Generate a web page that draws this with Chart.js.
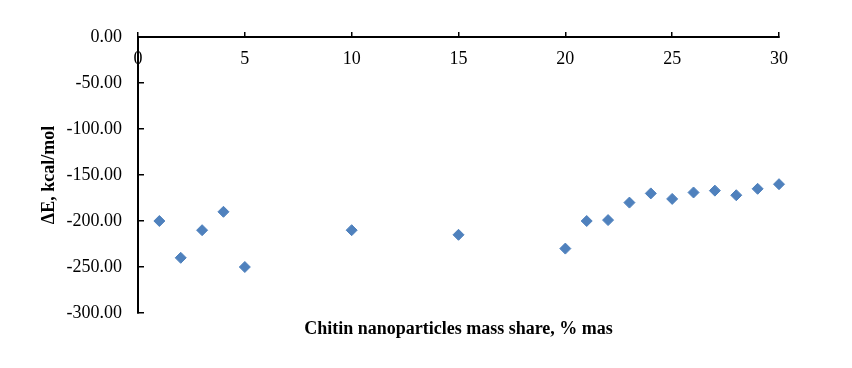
<!DOCTYPE html>
<html>
<head>
<meta charset="utf-8">
<script src="https://cdn.jsdelivr.net/npm/chart.js@4/dist/chart.umd.min.js"></script>
<style>
  body { margin: 0; background: #fff; }
  #wrap { width: 852px; height: 368px; position: relative; }
</style>
</head>
<body>
<div id="wrap"><canvas id="chart"></canvas></div>
<script>
// chitin nanoparticle share (% mas) vs interaction energy (kcal/mol)
const shares = [1, 2, 3, 4, 5, 10, 15, 20, 21, 22, 23, 24, 25, 26, 27, 28, 29, 30];
const energies = [-200, -240, -210, -190, -250, -210, -215, -230, -200, -199, -180, -170, -176, -169, -167, -172, -165, -160];
const xTicks = [0, 5, 10, 15, 20, 25, 30];
const yTicks = [0, -50, -100, -150, -200, -250, -300];

const serif = "'Liberation Serif', 'Times New Roman', serif";
const points = shares.map((s, i) => ({ x: s, y: energies[i] }));

const ctx = document.querySelector('#chart').getContext('2d');

new Chart(ctx, {
  type: 'scatter',
  data: {
    datasets: [{
      label: 'ΔE',
      data: points,
      pointStyle: 'rectRot',
      pointRadius: 5.5,
      pointHoverRadius: 5.5,
      backgroundColor: '#4F81BD',
      borderColor: '#4F81BD',
      borderWidth: 1,
      clip: false
    }]
  },
  options: {
    responsive: true,
    maintainAspectRatio: false,
    animation: false,
    events: [],
    layout: { padding: { left: 0, right: 73, top: 37, bottom: 27.4 } },
    plugins: {
      legend: { display: false },
      tooltip: { enabled: false },
      title: {
        display: true,
        position: 'bottom',
        fullSize: false,
        text: 'Chitin nanoparticles mass share, % mas',
        color: '#000',
        font: { family: serif, size: 18, weight: 'bold' },
        padding: { top: 6, bottom: 0 }
      }
    },
    scales: {
      x: {
        type: 'linear',
        position: { y: 0 },
        min: 0,
        max: 30,
        afterBuildTicks: s => { s.ticks = xTicks.map(v => ({ value: v })); },
        grid: { drawOnChartArea: false, color: '#000', lineWidth: 1.5, tickLength: -6 },
        border: { color: '#000', width: 2 },
        ticks: { color: '#000', font: { family: serif, size: 18 }, padding: 17, maxRotation: 0 }
      },
      y: {
        type: 'linear',
        min: -300,
        max: 0,
        afterBuildTicks: s => { s.ticks = yTicks.map(v => ({ value: v })); },
        afterFit: s => { s.width = 138; },
        grid: { drawOnChartArea: false, color: '#000', lineWidth: 1.5, tickLength: -6 },
        border: { color: '#000', width: 2 },
        ticks: {
          color: '#000',
          font: { family: serif, size: 18 },
          padding: 22,
          callback: v => v.toFixed(2)
        },
        title: {
          display: true,
          text: 'ΔE, kcal/mol',
          color: '#000',
          font: { family: serif, size: 18, weight: 'bold' },
          padding: { top: 39, bottom: 0 }
        }
      }
    }
  }
});
</script>
</body>
</html>
